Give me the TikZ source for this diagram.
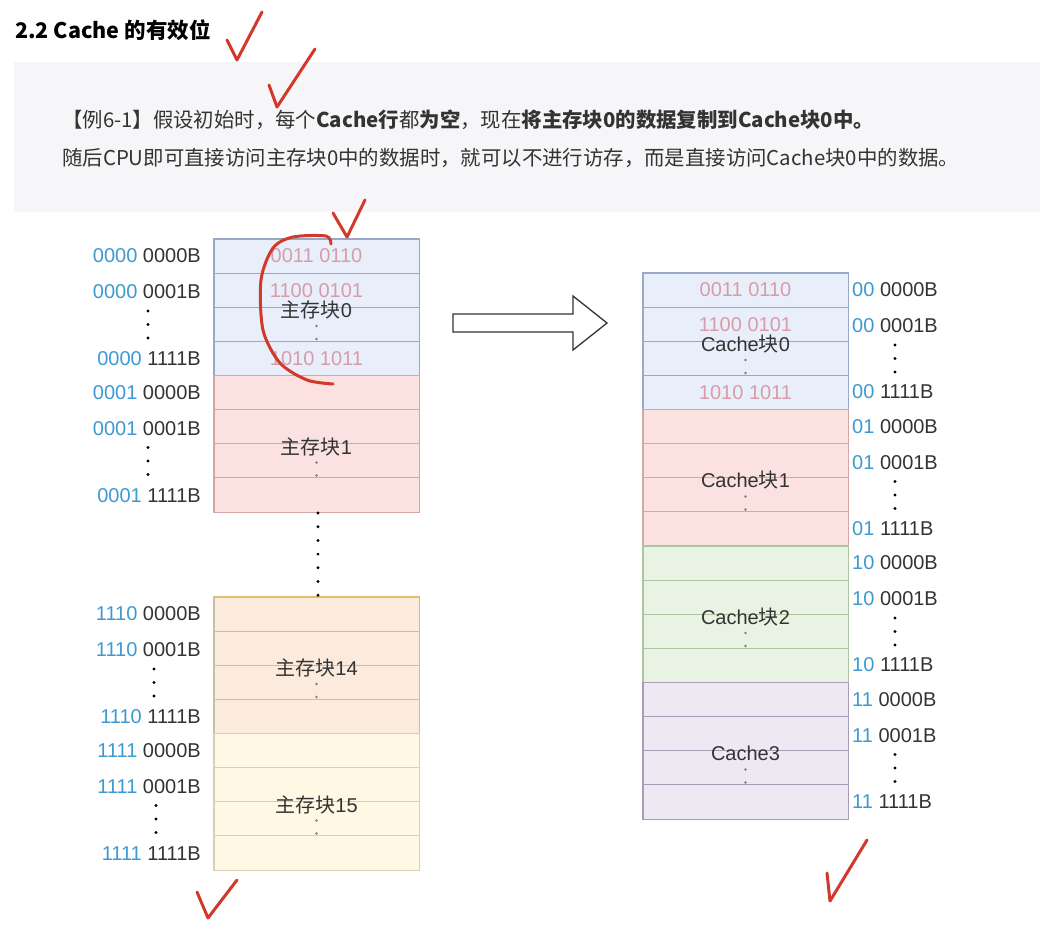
\documentclass[tikz,border=0pt]{standalone}
\usepackage{fontspec}
\setmainfont{Liberation Sans}
\newfontfamily\cjk{Noto Sans CJK SC}
\usepackage{xcolor}
\definecolor{ink}{HTML}{333333}
\definecolor{bits}{HTML}{3D9AD1}
\definecolor{datapink}{HTML}{D89CA8}
\definecolor{panel}{HTML}{F6F6F8}
\definecolor{penred}{HTML}{D2392B}
\definecolor{blueF}{HTML}{E8EFFB}
\definecolor{blueD}{HTML}{9AA8C8}
\definecolor{redF}{HTML}{FBE1E0}
\definecolor{redD}{HTML}{D3A7A6}
\definecolor{orgF}{HTML}{FCEBDC}
\definecolor{orgD}{HTML}{C9BDB0}
\definecolor{orgO}{HTML}{DCC06E}
\definecolor{yelF}{HTML}{FFF8E4}
\definecolor{yelD}{HTML}{D9D0B3}
\definecolor{grnF}{HTML}{E8F3E4}
\definecolor{grnD}{HTML}{ACC7A0}
\definecolor{purF}{HTML}{EEE8F3}
\definecolor{purD}{HTML}{A99CB6}
\tikzset{
  cell/.style={draw=#1,line width=0.9pt,minimum width=205pt,minimum height=34.125pt,inner sep=0pt},
  addr/.style={font=\fontsize{20}{24}\selectfont,text=ink,inner sep=0pt},
  datum/.style={font=\fontsize{20}{24}\selectfont,text=datapink,inner sep=0pt},
  blk/.style={font=\fontsize{20}{24}\selectfont,text=ink,inner sep=0pt},
  para/.style={font=\cjk\fontsize{20.4}{24}\selectfont,text=ink,inner sep=0pt,anchor=west},
  bigarrow/.style={draw=ink,line width=1.3pt,fill=white,line join=miter},
  pen/.style={draw=penred,line width=3pt,line cap=round,line join=round},
}
\newcommand{\addrdots}[3]{% x, y, colour
  \foreach \k in {0,1,2} \fill[#3] (#1,{#2+\k*13.5}) circle (1.6pt);
}
\begin{document}
\begin{tikzpicture}[x=1pt,y=-1pt]
  \useasboundingbox (0,0) rectangle (1056,940);
  \fill[white] (0,0) rectangle (1056,940);
  % heading and example text
  \node[anchor=west,inner sep=0pt,text=black] (title) at (15,30) {\cjk\bfseries\fontsize{21.5}{26}\selectfont 2.2 Cache 的有效位};
  \fill[panel] (14,62) rectangle (1040,212);
  \node[para] (ex1) at (62,120) {【例6-1】假设初始时，每个\textbf{Cache行}都\textbf{为空}，现在\textbf{将主存块0的数据复制到Cache块0中。}};
  \node[para] (ex2) at (62,158) {随后CPU即可直接访问主存块0中的数据时，就可以不进行访存，而是直接访问Cache块0中的数据。};

  % main memory
  \foreach \b/\y/\fc/\dc/\oc/\hi/\dx in {0/239/blueF/blueD/blueD/0000/148, 1/375.5/redF/redD/redD/0001/148, 14/597/orgF/orgD/orgO/1110/154, 15/733.5/yelF/yelD/yelD/1111/156} {
    \foreach \r in {1,...,4}
      \node[cell=\dc,fill=\fc] (m\b r\r) at (316.5,{\y+\r*34.125-17.06}) {};
    \draw[\oc,line width=1.1pt] (m\b r1.north west) rectangle (m\b r4.south east);
    \node[blk] (m\b) at (316.5,{\y+71}) {{\cjk 主存块}\b};
    \fill[gray] (316.5,{\y+87}) circle (1.3pt) (316.5,{\y+100}) circle (1.3pt);
    \node[addr,anchor=east] (ma\b a) at (201,{\y+17}) {\textcolor{bits}{\hi} 0000B};
    \node[addr,anchor=east] (ma\b b) at (201,{\y+53}) {\textcolor{bits}{\hi} 0001B};
    \addrdots{\dx}{\y+72}{black}
    \node[addr,anchor=east] (ma\b c) at (201,{\y+120}) {\textcolor{bits}{\hi} 1111B};
  }
  \node[datum] (md1) at (m0r1) {0011 0110};
  \node[datum] (md2) at (m0r2) {1100 0101};
  \node[datum] (md4) at (m0r4) {1010 1011};
  \foreach \k in {0,...,6} \fill (318,{513+\k*13.7}) circle (1.6pt);

  % cache
  \foreach \b/\y/\fc/\dc/\hi/\lab in {0/273/blueF/blueD/00/Cache{\cjk 块}0, 1/409.5/redF/redD/01/Cache{\cjk 块}1, 2/546/grnF/grnD/10/Cache{\cjk 块}2, 3/682.5/purF/purD/11/Cache3} {
    \foreach \r in {1,...,4}
      \node[cell=\dc,fill=\fc] (c\b r\r) at (745.5,{\y+\r*34.125-17.06}) {};
    \draw[\dc,line width=1.1pt] (c\b r1.north west) rectangle (c\b r4.south east);
    \node[blk] (c\b) at (745.5,{\y+71}) {\lab};
    \fill[gray] (745.5,{\y+87}) circle (1.3pt) (745.5,{\y+100}) circle (1.3pt);
    \node[addr,anchor=west] (ca\b a) at (852,{\y+17}) {\textcolor{bits}{\hi} 0000B};
    \node[addr,anchor=west] (ca\b b) at (852,{\y+53}) {\textcolor{bits}{\hi} 0001B};
    \addrdots{895}{\y+72}{black}
    \node[addr,anchor=west] (ca\b c) at (852,{\y+119}) {\textcolor{bits}{\hi} 1111B};
  }
  \node[datum] (cd1) at (c0r1) {0011 0110};
  \node[datum] (cd2) at (c0r2) {1100 0101};
  \node[datum] (cd4) at (c0r4) {1010 1011};

  % copy arrow
  \coordinate (copy) at (453,323);
  \draw[bigarrow] (copy) ++(0,-9) -- ++(120,0) -- ++(0,-18) -- ++(34,27) -- ++(-34,27) -- ++(0,-18) -- ++(-120,0) -- cycle;

  % hand-drawn marks
  \draw[pen] (227,40) -- (237,60) -- (262,12);
  \draw[pen] (269,85) -- (277,107) -- (315,49);
  \draw[pen] (333,213) -- (347,237) -- (365,200);
  \draw[pen] plot[smooth] coordinates {(331,244) (326,236) (293,237) (273,248) (261,280) (263,330) (280,363) (307,380) (333,384)};
  \draw[pen] (197,892) -- (208,918) -- (237,880);
  \draw[pen] (827,873) -- (830,901) -- (867,840);
\end{tikzpicture}
\end{document}
